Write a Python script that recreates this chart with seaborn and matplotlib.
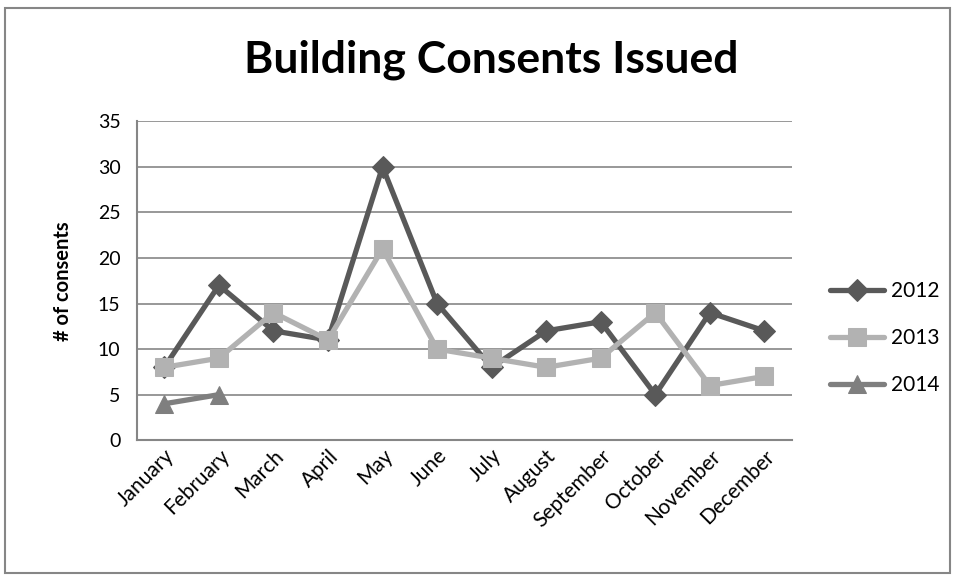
import matplotlib
matplotlib.use("Agg")
import matplotlib.pyplot as plt
import seaborn as sns
import pandas as pd
from matplotlib.patches import Rectangle

months = ["January", "February", "March", "April", "May", "June", "July",
          "August", "September", "October", "November", "December"]
y2012 = [8, 17, 12, 11, 30, 15, 8, 12, 13, 5, 14, 12]
y2013 = [8, 9, 14, 11, 21, 10, 9, 8, 9, 14, 6, 7]
y2014 = [4, 5]
yticks = [0, 5, 10, 15, 20, 25, 30, 35]

rows = []
for yr, vals in (("2012", y2012), ("2013", y2013), ("2014", y2014)):
    for i, v in enumerate(vals):
        rows.append({"month": months[i], "pos": i, "value": v, "year": yr})
df = pd.DataFrame(rows)

sns.set_theme(style="white")
plt.rcParams['font.family'] = ['Lato', 'DejaVu Sans']
plt.rcParams['text.color'] = 'black'
plt.rcParams['xtick.color'] = 'black'
plt.rcParams['ytick.color'] = 'black'
plt.rcParams['axes.labelcolor'] = 'black'

fig = plt.figure(figsize=(9.55, 5.8), dpi=100)
ax = fig.add_axes([0.1435, 0.241, 0.6855, 0.55])

palette = {"2012": "#595959", "2013": "#b2b2b2", "2014": "#7f7f7f"}
markers = {"2012": "D", "2013": "s", "2014": "^"}
sizes_m = {"2012": 11, "2013": 13, "2014": 13}

for yr in ["2012", "2013", "2014"]:
    sub = df[df.year == yr]
    sns.lineplot(data=sub, x="pos", y="value", ax=ax, color=palette[yr],
                 marker=markers[yr], markersize=sizes_m[yr], linewidth=3.8,
                 markeredgecolor=palette[yr], label=yr, zorder=3)

ax.set_xlim(-0.5, 11.5)
ax.set_ylim(0, 35)
ax.set_yticks(yticks)
ax.set_yticklabels([str(t) for t in yticks], fontsize=14)
ax.set_xticks(range(len(months)))
ax.set_xticklabels(months, rotation=45, ha="right", rotation_mode="anchor", fontsize=15)
ax.tick_params(axis='x', pad=4, length=0)
ax.tick_params(axis='y', pad=12, length=0)
ax.set_xlabel("")
ax.set_ylabel("# of consents", fontsize=14.5, fontweight="bold", labelpad=18)
ax.grid(axis="y", color="#868686", linewidth=1.2)
ax.set_axisbelow(True)
for s in ["top", "right"]:
    ax.spines[s].set_visible(False)
for s in ["left", "bottom"]:
    ax.spines[s].set_color("#868686")
    ax.spines[s].set_linewidth(1.5)

fig.text(0.514, 0.897, "Building Consents Issued", fontsize=32, fontweight="bold",
         ha="center", va="center")

leg = ax.legend(loc="center left", bbox_to_anchor=(1.03, 0.32), frameon=False,
                fontsize=15, handlelength=2.6, labelspacing=1.3, handletextpad=0.3)

fig.patches.append(Rectangle((0.005, 0.012), 0.99, 0.975, transform=fig.transFigure,
                             fill=False, edgecolor="#868686", linewidth=1.5))

fig.savefig("out.png", dpi=100)
